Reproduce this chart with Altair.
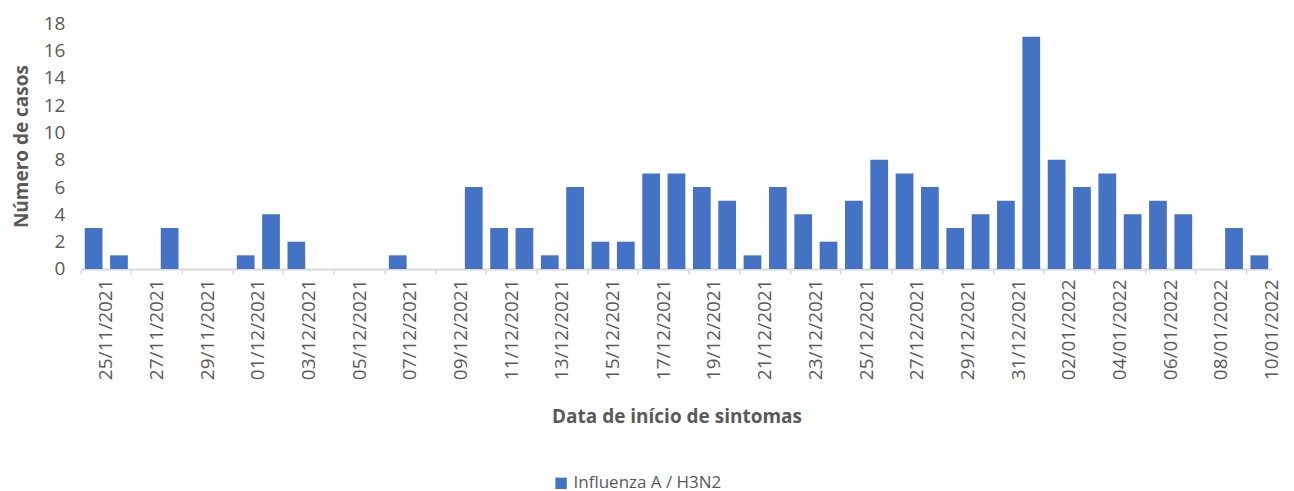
import altair as alt
import pandas as pd

datas = [
    "25/11/2021", "26/11/2021", "27/11/2021", "28/11/2021", "29/11/2021", "30/11/2021",
    "01/12/2021", "02/12/2021", "03/12/2021", "04/12/2021", "05/12/2021", "06/12/2021",
    "07/12/2021", "08/12/2021", "09/12/2021", "10/12/2021", "11/12/2021", "12/12/2021",
    "13/12/2021", "14/12/2021", "15/12/2021", "16/12/2021", "17/12/2021", "18/12/2021",
    "19/12/2021", "20/12/2021", "21/12/2021", "22/12/2021", "23/12/2021", "24/12/2021",
    "25/12/2021", "26/12/2021", "27/12/2021", "28/12/2021", "29/12/2021", "30/12/2021",
    "31/12/2021", "01/01/2022", "02/01/2022", "03/01/2022", "04/01/2022", "05/01/2022",
    "06/01/2022", "07/01/2022", "08/01/2022", "09/01/2022", "10/01/2022",
]
casos = [
    3, 1, 0, 3, 0, 0,
    1, 4, 2, 0, 0, 0,
    1, 0, 0, 6, 3, 3,
    1, 6, 2, 2, 7, 7,
    6, 5, 1, 6, 4, 2,
    5, 8, 7, 6, 3, 4,
    5, 17, 8, 6, 7, 4,
    5, 4, 0, 3, 1,
]
serie = "Influenza A / H3N2"
rotulos_x = datas[::2]
ticks_y = list(range(0, 19, 2))

df = pd.DataFrame({"data": datas, "casos": casos, "serie": [serie] * len(datas)})

FONT = "Open Sans"
GRAY = "#595959"
W, H = 1192, 246
step = W / len(datas)

chart = (
    alt.Chart(df)
    .mark_bar(width=alt.RelativeBandSize(0.7))
    .encode(
        x=alt.X(
            "data:O",
            sort=None,
            scale=alt.Scale(paddingInner=0, paddingOuter=0),
            axis=alt.Axis(
                title="Data de início de sintomas",
                values=rotulos_x,
                labelAngle=270,
                bandPosition=0,
                labelOffset=step / 2,
                labelFont=FONT,
                labelFontSize=19,
                labelColor=GRAY,
                labelPadding=5,
                tickSize=5,
                tickColor="#D9D9D9",
                tickWidth=1.5,
                domainColor="#D9D9D9",
                domainWidth=2,
                titleFont=FONT,
                titleFontSize=19,
                titleFontWeight="bold",
                titleColor=GRAY,
                titlePadding=28,
                grid=False,
            ),
        ),
        y=alt.Y(
            "casos:Q",
            scale=alt.Scale(domain=[0, 18], nice=False),
            axis=alt.Axis(
                title="Número de casos",
                values=ticks_y,
                labelFont=FONT,
                labelFontSize=19,
                labelColor=GRAY,
                labelPadding=16,
                ticks=False,
                domain=False,
                grid=False,
                titleFont=FONT,
                titleFontSize=19,
                titleFontWeight="bold",
                titleColor=GRAY,
                titlePadding=12,
            ),
        ),
        color=alt.Color(
            "serie:N",
            scale=alt.Scale(domain=[serie], range=["#4472C4"]),
            legend=alt.Legend(
                title=None,
                orient="none",
                legendX=472,
                legendY=452,
                direction="horizontal",
                symbolType="square",
                symbolSize=130,
                symbolStrokeWidth=0,
                labelFont=FONT,
                labelFontSize=17,
                labelColor=GRAY,
                labelOffset=4,
            ),
        ),
    )
    .properties(width=W, height=H, padding={"left": 4, "top": 6, "right": 4, "bottom": 0})
    .configure_view(stroke=None)
)

chart.save("out.html", embed_options={"renderer": "svg", "actions": False})
